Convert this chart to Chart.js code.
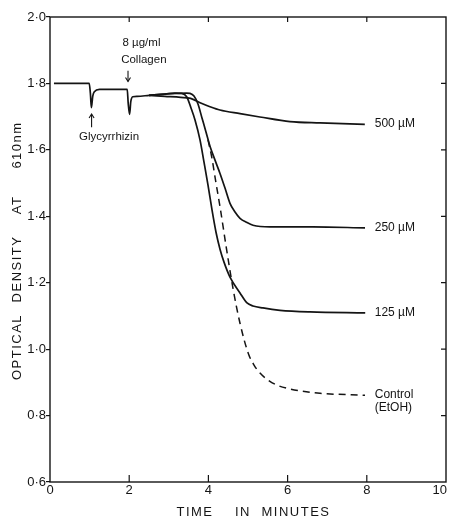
<!DOCTYPE html>
<html><head><meta charset="utf-8">
<script src="https://cdn.jsdelivr.net/npm/chart.js@4.4.1/dist/chart.umd.min.js"></script>
<style>html,body{margin:0;padding:0;background:#fff}#wrap{width:452px;height:519px}</style>
</head><body><div id="wrap"><canvas id="c" width="452" height="519"></canvas></div>
<script>
// Shared trace (baseline, Glycyrrhizin and collagen additions)
const traceTime = [0.1, 0.99, 1.02, 1.045, 1.08, 1.12, 1.25, 1.95, 1.975, 2.01, 2.04, 2.09, 2.2, 2.5];
const traceOD   = [1.800, 1.800, 1.77, 1.727, 1.762, 1.775, 1.782, 1.782, 1.74, 1.707, 1.745, 1.760, 1.761, 1.764];
// 500 µM
const time500 = [2.5, 2.9, 3.3, 3.55, 3.79, 4.04, 4.29, 4.8, 5.3, 6.06, 6.82, 7.95];
const od500   = [1.764, 1.761, 1.758, 1.755, 1.742, 1.730, 1.720, 1.709, 1.699, 1.685, 1.681, 1.677];
// 250 µM
const time250 = [2.5, 2.9, 3.2, 3.45, 3.535, 3.636, 3.737, 3.838, 3.939, 4.040, 4.167, 4.293, 4.419, 4.545, 4.672, 4.798, 4.975, 5.126, 5.556, 6.641, 7.955];
const od250   = [1.764, 1.768, 1.770, 1.771, 1.770, 1.762, 1.738, 1.696, 1.654, 1.611, 1.569, 1.529, 1.485, 1.439, 1.413, 1.394, 1.381, 1.373, 1.368, 1.368, 1.365];
// 125 µM
const time125 = [2.5, 2.9, 3.15, 3.326, 3.452, 3.561, 3.662, 3.788, 3.889, 3.990, 4.091, 4.192, 4.293, 4.394, 4.545, 4.798, 4.975, 5.126, 5.379, 5.808, 6.566, 7.96];
const od125   = [1.764, 1.768, 1.771, 1.770, 1.760, 1.726, 1.690, 1.630, 1.563, 1.494, 1.419, 1.352, 1.301, 1.262, 1.217, 1.169, 1.139, 1.130, 1.124, 1.117, 1.112, 1.109];
// Control (EtOH), dashed
const timeCtrl = [3.990, 4.083, 4.192, 4.293, 4.462, 4.629, 4.798, 5.008, 5.152, 5.303, 5.505, 5.725, 6.061, 6.515, 6.818, 7.955];
const odCtrl   = [1.630, 1.579, 1.500, 1.429, 1.298, 1.178, 1.078, 0.987, 0.952, 0.928, 0.907, 0.892, 0.880, 0.871, 0.867, 0.861];

// Tick values
const xTicks = [0, 2, 4, 6, 8, 10];
const xTickLabels = ['0', '2', '4', '6', '8', '10'];
const yTicks = [0.6, 0.8, 1.0, 1.2, 1.4, 1.6, 1.8, 2.0];

// Curve labels (data coordinates)
const curveLabels = ['500 µM', '250 µM', '125 µM', 'Control', '(EtOH)'];
const curveLabelTime = [8.2, 8.2, 8.2, 8.2, 8.2];
const curveLabelOD = [1.678, 1.367, 1.110, 0.864, 0.825];

// Additions annotations (data coordinates)
const noteTexts = ['Glycyrrhizin', '8 µg/ml', 'Collagen'];
const noteTime = [1.49, 2.31, 2.37];
const noteOD = [1.639, 1.922, 1.870];
const arrowTime = [1.05, 1.97];
const arrowTailOD = [1.668, 1.838];
const arrowTipOD = [1.708, 1.806];

const pts = (t, v) => t.map((x, i) => ({x: x, y: v[i]}));
const INK = '#141414';
const FONT = '"Liberation Sans", Arial, sans-serif';

const solid = (data) => ({data, borderColor: INK, borderWidth: 1.7, pointRadius: 0, fill: false, cubicInterpolationMode: 'monotone'});

const decor = {
  id: 'decor',
  afterDraw(chart) {
    const {ctx, chartArea: a, scales: {x, y}} = chart;
    ctx.save();
    ctx.strokeStyle = INK; ctx.lineWidth = 1.4;
    ctx.strokeRect(a.left, a.top, a.right - a.left, a.bottom - a.top);
    ctx.lineWidth = 1.2;
    ctx.beginPath();
    xTicks.slice(1, -1).forEach(t => {
      const px = x.getPixelForValue(t);
      ctx.moveTo(px, a.bottom); ctx.lineTo(px, a.bottom - 7);
      ctx.moveTo(px, a.top); ctx.lineTo(px, a.top + 5);
    });
    yTicks.slice(1, -1).forEach(v => {
      const py = y.getPixelForValue(v);
      ctx.moveTo(a.right, py); ctx.lineTo(a.right - 5, py);
    });
    ctx.stroke();
    // arrows
    ctx.lineWidth = 1.1;
    arrowTime.forEach((t, i) => {
      const px = x.getPixelForValue(t);
      const p0 = y.getPixelForValue(arrowTailOD[i]);
      const p1 = y.getPixelForValue(arrowTipOD[i]);
      const d = p1 < p0 ? 1 : -1;
      ctx.beginPath(); ctx.moveTo(px, p0); ctx.lineTo(px, p1); ctx.stroke();
      ctx.beginPath(); ctx.moveTo(px - 2.5, p1 + d * 4); ctx.lineTo(px, p1); ctx.lineTo(px + 2.5, p1 + d * 4); ctx.stroke();
    });
    ctx.fillStyle = INK;
    // x tick labels
    ctx.font = '13px ' + FONT;
    ctx.textBaseline = 'top';
    xTicks.forEach((t, i) => {
      const last = i === xTicks.length - 1;
      ctx.textAlign = last ? 'right' : 'center';
      ctx.fillText(xTickLabels[i], x.getPixelForValue(t) + (last ? 1 : 0), a.bottom + 2);
    });
    ctx.textBaseline = 'middle';
    ctx.font = '11.5px ' + FONT;
    ctx.textAlign = 'center';
    noteTexts.forEach((s, i) => ctx.fillText(s, x.getPixelForValue(noteTime[i]), y.getPixelForValue(noteOD[i])));
    ctx.font = '12px ' + FONT;
    ctx.textAlign = 'left';
    curveLabels.forEach((s, i) => ctx.fillText(s, x.getPixelForValue(curveLabelTime[i]), y.getPixelForValue(curveLabelOD[i])));
    // axis titles
    ctx.font = '13px ' + FONT;
    ctx.letterSpacing = '1.5px';
    ctx.textAlign = 'center';
    [['TIME', 195], ['IN', 243], ['MINUTES', 296]].forEach(([s, cx]) => ctx.fillText(s, cx, 512));
    ctx.translate(17, 0);
    ctx.rotate(-Math.PI / 2);
    [['OPTICAL', 347], ['DENSITY', 269], ['AT', 205], ['610nm', 145]].forEach(([s, cy]) => ctx.fillText(s, -cy, 0));
    ctx.restore();
  }
};

new Chart(document.getElementById('c'), {
  type: 'line',
  data: {
    datasets: [
      solid(pts(traceTime, traceOD)),
      solid(pts(time500, od500)),
      solid(pts(time250, od250)),
      solid(pts(time125, od125)),
      Object.assign(solid(pts(timeCtrl, odCtrl)), {borderDash: [7, 5], borderWidth: 1.5})
    ]
  },
  options: {
    responsive: false, animation: false, events: [],
    layout: {padding: {top: 17, right: 6, left: 0, bottom: 0}},
    plugins: {legend: {display: false}, tooltip: {enabled: false}},
    scales: {
      x: {
        type: 'linear', min: 0, max: 10,
        afterBuildTicks: s => { s.ticks = xTicks.map(v => ({value: v})); },
        afterFit: s => { s.height = 37; s.paddingRight = 0; s.paddingLeft = 0; },
        grid: {display: false, drawTicks: false},
        border: {display: false},
        ticks: {display: false}
      },
      y: {
        type: 'linear', min: 0.6, max: 2.0,
        afterBuildTicks: s => { s.ticks = yTicks.map(v => ({value: v})); },
        afterFit: s => { s.width = 50; s.paddingTop = 0; s.paddingBottom = 0; },
        grid: {drawOnChartArea: false, drawTicks: true, tickLength: 4, color: INK, lineWidth: 1.2},
        border: {display: false},
        ticks: {color: INK, font: {family: FONT, size: 13}, padding: 0, callback: v => v.toFixed(1).replace('.', '·')}
      }
    }
  },
  plugins: [decor]
});
</script></body></html>
